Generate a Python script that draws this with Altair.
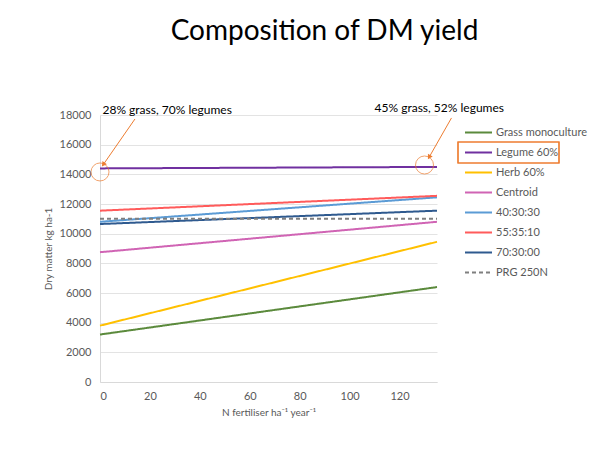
import altair as alt
import pandas as pd

series = ["Grass monoculture", "Legume 60%", "Herb 60%", "Centroid",
          "40:30:30", "55:35:10", "70:30:00", "PRG 250N"]
n_levels = [0, 135]
start_vals = [3200, 14400, 3800, 8750, 10800, 11550, 10650, 11000]
end_vals = [6400, 14500, 9450, 10800, 12450, 12550, 11550, 11000]
colors = ["#5B8A3C", "#7030A0", "#FFC000", "#D064B4",
          "#5B9BD5", "#FF5B5B", "#2F5A8F", "#7F7F7F"]
dashes = [[1, 0]] * 7 + [[4, 3]]

y_ticks = list(range(0, 18001, 2000))
x_ticks = list(range(0, 121, 20))

ann_text = ["28% grass, 70% legumes", "45% grass, 52% legumes"]
ann_text_x = [1, 110]
ann_text_y = [18340, 18470]
circle_x = [0, 130]
circle_y = [14160, 14630]
arrow_x1 = [14, 140.8]
arrow_y1 = [17730, 17800]
arrow_x2 = [1.5, 132]
arrow_y2 = [14700, 15200]
arrow_angle = [216, 210]

rows = []
for s, a, b in zip(series, start_vals, end_vals):
    rows.append({"series": s, "N": n_levels[0], "DM": a})
    rows.append({"series": s, "N": n_levels[1], "DM": b})
df = pd.DataFrame(rows)

ann = pd.DataFrame({"text": ann_text, "x": ann_text_x, "y": ann_text_y})
circ = pd.DataFrame({"x": circle_x, "y": circle_y})
arr = pd.DataFrame({"x": arrow_x1, "y": arrow_y1, "x2": arrow_x2, "y2": arrow_y2,
                    "angle": arrow_angle})

FONT = "Lato"
xscale = alt.Scale(domain=[0, 135], nice=False)
yscale = alt.Scale(domain=[0, 18000], nice=False)

xaxis = alt.Axis(values=x_ticks, title="N fertiliser ha\u207b\u00b9 year\u207b\u00b9",
                 grid=False, ticks=False, domainColor="#d9d9d9",
                 labelColor="#595959", labelFontSize=11, labelPadding=8,
                 labelOverlap=False,
                 titleColor="#595959", titleFontSize=10, titleFontWeight="normal",
                 titlePadding=6, labelFont=FONT, titleFont=FONT)
yaxis = alt.Axis(values=y_ticks, format="d", title="Dry matter kg ha-1",
                 grid=True, gridColor="#e3e3e3", ticks=False, domainColor="#d9d9d9",
                 labelColor="#595959", labelFontSize=11, labelPadding=9,
                 labelOverlap=False,
                 titleColor="#595959", titleFontSize=10, titleFontWeight="normal",
                 titlePadding=6, labelFont=FONT, titleFont=FONT)

legend_kw = dict(title=None, orient="none", legendX=364, legendY=3,
                 symbolType="stroke", symbolSize=729,
                 symbolStrokeWidth=2, rowPadding=-6,
                 labelFont=FONT, labelFontSize=11,
                 labelColor="#595959", labelOffset=3, padding=0)

lines = alt.Chart(df).mark_line(strokeWidth=2, clip=False).encode(
    x=alt.X("N:Q", scale=xscale, axis=xaxis),
    y=alt.Y("DM:Q", scale=yscale, axis=yaxis),
    color=alt.Color("series:N", sort=series,
                    scale=alt.Scale(domain=series, range=colors),
                    legend=alt.Legend(**legend_kw)),
    strokeDash=alt.StrokeDash("series:N", sort=series,
                              scale=alt.Scale(domain=series, range=dashes),
                              legend=alt.Legend(**legend_kw)),
    detail="series:N",
)

texts = alt.Chart(ann).mark_text(align="left", baseline="middle", font=FONT,
                                 fontSize=12, color="black", clip=False).encode(
    x=alt.X("x:Q", scale=xscale, axis=xaxis), y=alt.Y("y:Q", scale=yscale, axis=yaxis),
    text="text:N")

circles = alt.Chart(circ).mark_point(shape="circle", size=324, filled=False,
                                     color="#ED7D31", strokeWidth=1, clip=False).encode(
    x=alt.X("x:Q", scale=xscale, axis=xaxis), y=alt.Y("y:Q", scale=yscale, axis=yaxis))

arrow_lines = alt.Chart(arr).mark_rule(color="#ED7D31", strokeWidth=1).encode(
    x=alt.X("x:Q", scale=xscale, axis=xaxis), y=alt.Y("y:Q", scale=yscale, axis=yaxis),
    x2="x2:Q", y2="y2:Q")

arrow_heads = alt.Chart(arr).mark_point(shape="triangle", size=30, filled=True,
                                        color="#ED7D31", opacity=1).encode(
    x=alt.X("x2:Q", scale=xscale, axis=xaxis), y=alt.Y("y2:Q", scale=yscale, axis=yaxis),
    angle=alt.Angle("angle:Q", scale=None))

box = alt.Chart(ann).mark_rect(filled=False, stroke="#ED7D31", strokeWidth=1.2).encode(
    x=alt.value(358), x2=alt.value(459), y=alt.value(27), y2=alt.value(48))

chart = alt.layer(lines, arrow_lines, arrow_heads, circles, texts, box).properties(
    width=337, height=267,
    autosize="none",
    padding={"left": 92, "top": 107, "right": 168, "bottom": 61},
    title=alt.Title("Composition of DM yield", font=FONT, fontSize=28,
                    fontWeight="normal", color="black", anchor="middle",
                    dx=56, offset=56),
).configure_view(stroke=None)

chart.save("out.html", embed_options={"renderer": "svg", "actions": False})
